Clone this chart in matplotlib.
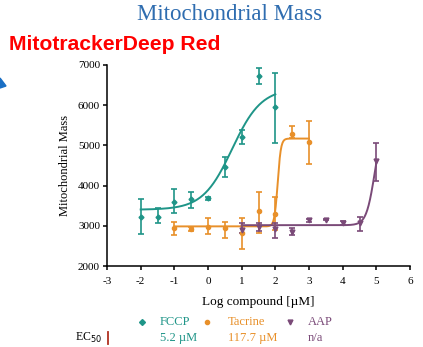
import numpy as np
import matplotlib
matplotlib.use("Agg")
import matplotlib.pyplot as plt
from matplotlib.patches import Polygon

# ---- data ----
fccp_x = [-2, -1.5, -1, -0.5, 0, 0.5, 1, 1.5, 2]
fccp_y = [3226, 3226, 3600, 3660, 3684, 4470, 5200, 6730, 5950]
fccp_lo = [2790, 3060, 3310, 3435, 3640, 4222, 5030, 6527, 5068]
fccp_hi = [3667, 3435, 3908, 3848, 3720, 4720, 5383, 6917, 6810]

tac_x = [-1, -0.5, 0, 0.5, 1, 1.5, 2, 2.5, 3]
tac_y = [2937, 2920, 2978, 2937, 2828, 3368, 3294, 5284, 5092]
tac_lo = [2771, 2880, 2788, 2689, 2415, 2828, 2900, 5177, 4537]
tac_hi = [3104, 2970, 3187, 3104, 3194, 3848, 3724, 5473, 5614]

aap_x = [1, 1.5, 2, 2.5, 3, 3.5, 4, 4.5, 5]
aap_y = [2896, 2978, 2913, 2854, 3134, 3150, 3075, 3059, 4612]
aap_lo = [2830, 2860, 2689, 2760, 3090, 3140, 3030, 2871, 4109]
aap_hi = [3060, 3080, 3077, 2937, 3170, 3160, 3120, 3225, 5053]

# 4PL fit parameters (bottom, top, logEC50, hill) and fit ranges
fccp_fit = (3400, 6420, 0.716, 1.0)
tac_fit = (2985, 5170, 2.07, 9.0)
aap_fit = (3015, 5600, 4.95, 3.5)
fccp_rng = (-2, 2)
tac_rng = (-1, 3)
aap_rng = (1, 5)

xticks = [-3, -2, -1, 0, 1, 2, 3, 4, 5, 6]
yticks = [2000, 3000, 4000, 5000, 6000, 7000]

names = ["FCCP", "Tacrine", "AAP"]
ec50 = ["5.2 \u00b5M", "117.7 \u00b5M", "n/a"]

c_fccp = "#1f9588"
c_tac = "#e8902a"
c_aap = "#7a4a78"

def fpl(x, b, t, l, h):
    return b + (t - b) / (1 + 10 ** ((l - x) * h))

plt.rcParams['font.family'] = ['Liberation Serif', 'DejaVu Serif']
plt.rcParams['axes.unicode_minus'] = False

fig = plt.figure(figsize=(4.23, 3.47), dpi=100)
ax = fig.add_axes([107/423, 1-266/347, (410-107)/423, (266-65)/347])

for xs, ys, lo, hi, fit, rng, col, mk, ms in [
        (fccp_x, fccp_y, fccp_lo, fccp_hi, fccp_fit, fccp_rng, c_fccp, 'D', 2.5),
        (tac_x, tac_y, tac_lo, tac_hi, tac_fit, tac_rng, c_tac, 'o', 3),
        (aap_x, aap_y, aap_lo, aap_hi, aap_fit, aap_rng, c_aap, 'v', 3.5)]:
    ys = np.array(ys); lo = np.array(lo); hi = np.array(hi)
    ax.errorbar(xs, ys, yerr=[ys - lo, hi - ys], fmt=mk, color=col, ms=ms,
                ecolor=col, elinewidth=1.2, capsize=2.5, capthick=1.2, zorder=3)
    xx = np.linspace(rng[0], rng[1], 300)
    ax.plot(xx, fpl(xx, *fit), color=col, lw=1.4, zorder=2)

ax.set_xlim(-3, 6)
ax.set_ylim(2000, 7000)
ax.set_xticks(xticks)
ax.set_yticks(yticks)
ax.spines['top'].set_visible(False)
ax.spines['right'].set_visible(False)
for s in ['left', 'bottom']:
    ax.spines[s].set_linewidth(1.1)
ax.tick_params(direction='out', length=3, width=1.1, labelsize=8)
ax.tick_params(axis='x', pad=5)
ax.tick_params(axis='y', pad=2)
ax.set_xlabel("Log compound [\u00b5M]", fontsize=9.5, labelpad=7)
ax.set_ylabel("Mitochondrial Mass", fontsize=9, labelpad=5)

# Title and annotations
fig.text(230/423, 1-14/347, "Mitochondrial Mass", ha='center', va='center',
         fontsize=16.5, color="#2f6db0", family=['Liberation Serif'])
fig.text(9/423, 1-44/347, "MitotrackerDeep Red", ha='left', va='center',
         fontsize=15.2, color="#ff0000", fontweight='bold', family=['Liberation Sans'])
fig.patches.append(Polygon([[0, 1-78/347], [6/423, 1-86/347], [0, 1-88/347]],
                           closed=True, transform=fig.transFigure, color="#1a6fc4"))

# Legend row
cols = [c_fccp, c_tac, c_aap]
mks = ['D', 'o', 'v']
mx = [142, 207, 290]
tx = [160, 228, 308]
ly = 1 - 322/347
ey = 1 - 338/347
for m, x0, t0, c, n, e in zip(mks, mx, tx, cols, names, ec50):
    fig.lines.append(plt.Line2D([x0/423], [ly], marker=m, color=c, ms=3 if m != 'v' else 3.5,
                                transform=fig.transFigure, linestyle='none'))
    fig.text(t0/423, ly, n, ha='left', va='center', fontsize=9, color=c)
    fig.text(t0/423, ey, e, ha='left', va='center', fontsize=9, color=c)

fig.text(75/423, ey, "EC$_{50}$", ha='left', va='center', fontsize=8.5)
fig.lines.append(plt.Line2D([108/423, 108/423], [1-344/347, 1-332/347], color="#b03020",
                            lw=1.3, transform=fig.transFigure))

fig.savefig("out.png", dpi=100)
